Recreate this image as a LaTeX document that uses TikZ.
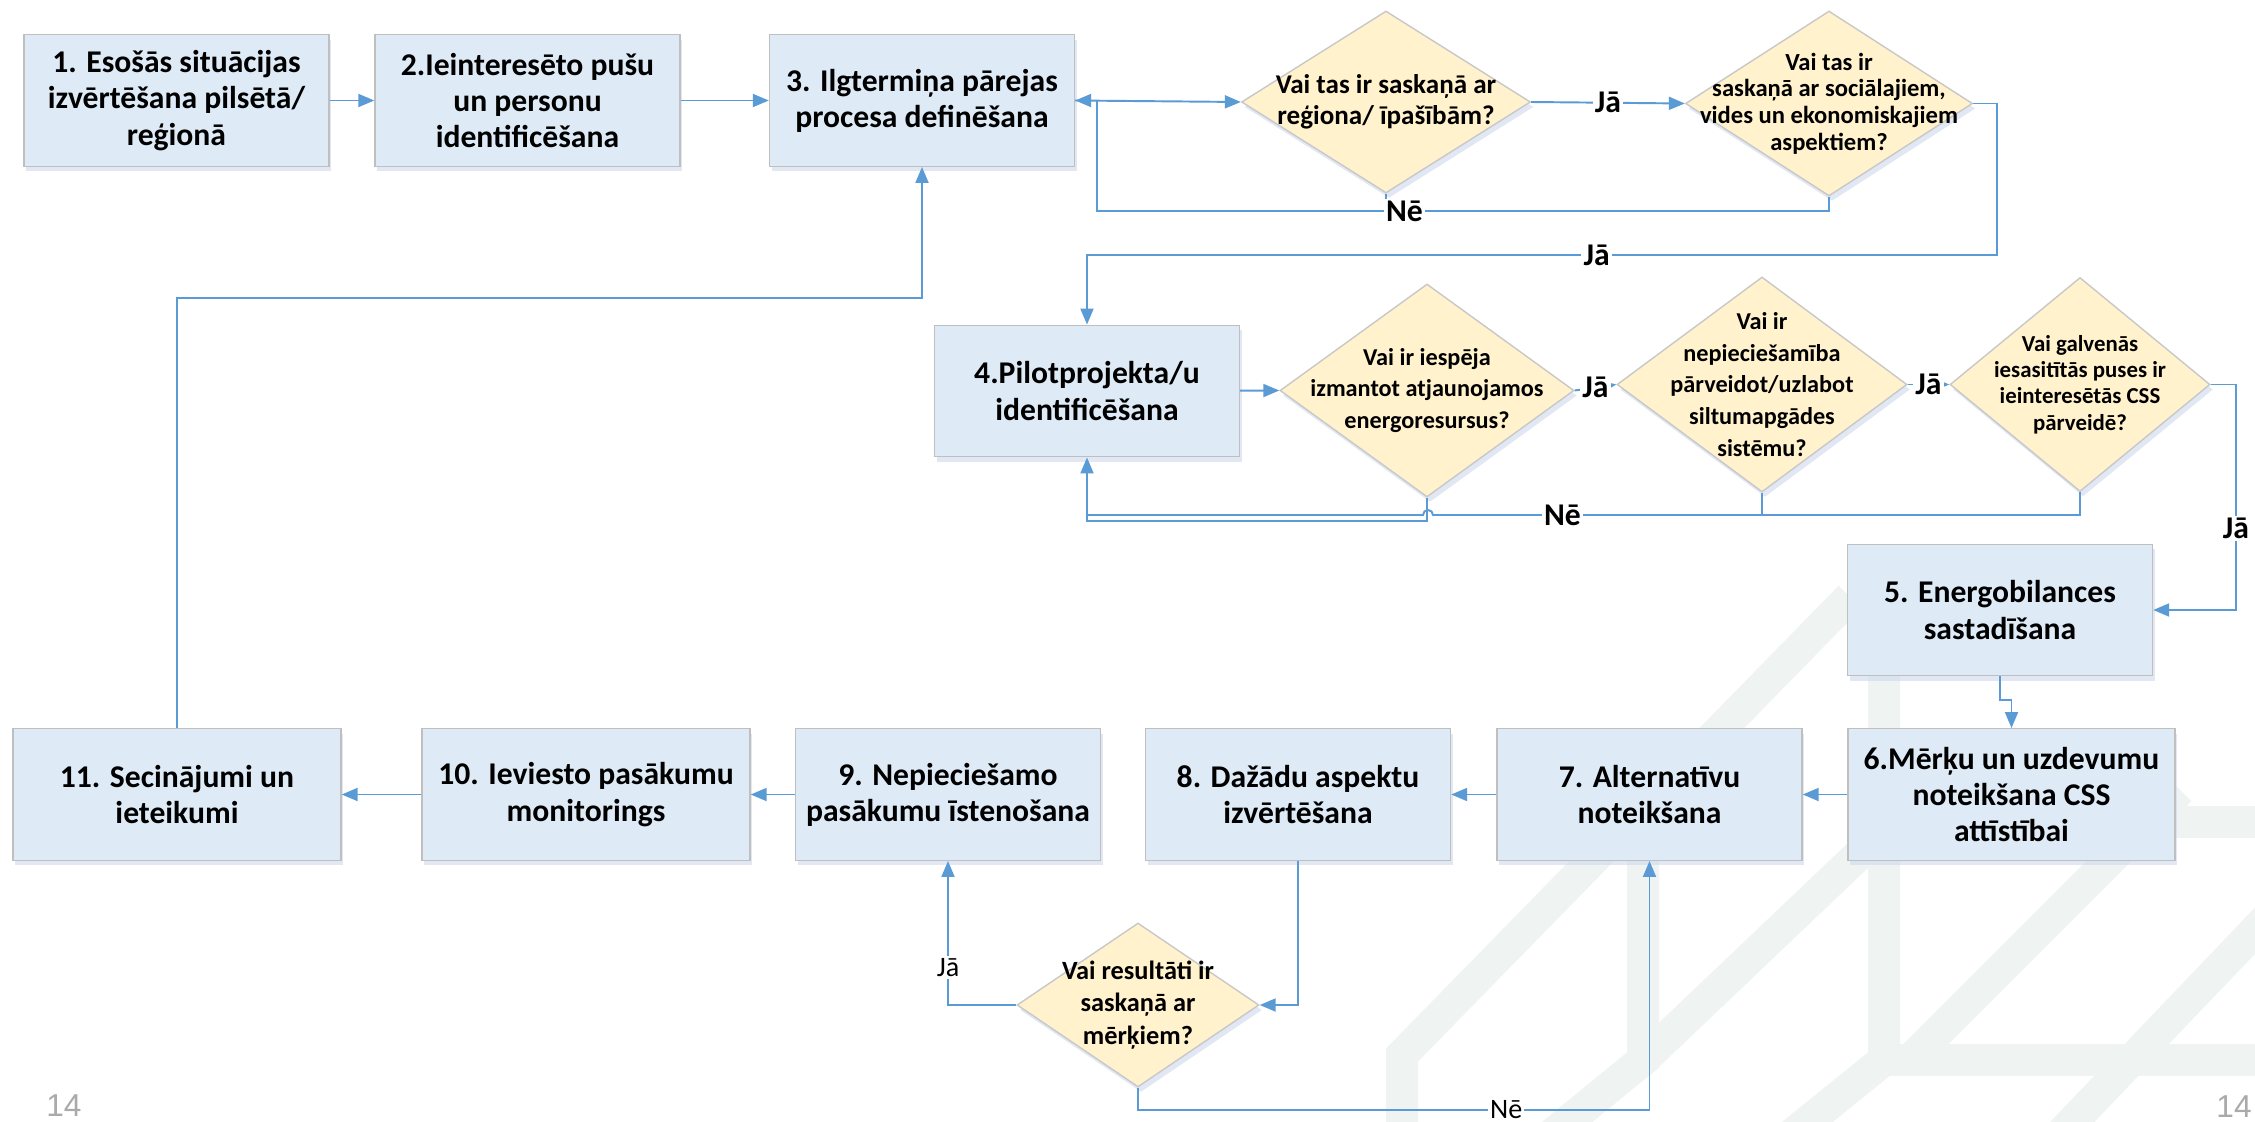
\documentclass[tikz,border=0pt]{standalone}
\usepackage{fontspec}
\setmainfont{Carlito}
\newfontfamily\pagefont{Liberation Sans}
\usetikzlibrary{positioning, arrows.meta, calc, shapes.geometric, shadows}

\definecolor{boxfill}{RGB}{222,235,247}
\definecolor{boxline}{RGB}{191,191,191}
\definecolor{decfill}{RGB}{255,242,204}
\definecolor{decline}{RGB}{200,200,200}
\definecolor{flowblue}{RGB}{91,155,213}
\definecolor{shade}{RGB}{205,218,236}
\definecolor{wmcolor}{RGB}{239,244,243}
\definecolor{pagegray}{RGB}{170,170,170}

\newcommand\boxfont{\bfseries\fontsize{9}{10.3}\selectfont}
\newcommand\decfont{\bfseries\fontsize{6.9}{9}\selectfont}
\newcommand\decsmall{\bfseries\fontsize{6.5}{7.5}\selectfont}

\tikzset{
  procbox/.style={draw=boxline, fill=boxfill, line width=0.4pt, align=center,
    minimum width=30.5mm, minimum height=13.15mm, inner sep=1pt, font=\boxfont,
    drop shadow={shadow xshift=0.2mm, shadow yshift=-0.5mm, fill=shade, opacity=0.6}},
  decision/.style={diamond, draw=decline, fill=decfill, line width=0.4pt, inner sep=0pt,
    drop shadow={shadow xshift=0.3mm, shadow yshift=-0.5mm, fill=shade, opacity=0.6}},
  dectext/.style={align=center, inner sep=0pt, font=\decfont},
  flow/.style={draw=flowblue, line width=0.55pt, -{Triangle[length=1.6mm, width=1.3mm]}},
  link/.style={draw=flowblue, line width=0.55pt},
  answer/.style={fill=white, inner sep=0.6pt, font=\bfseries\fontsize{9}{10}\selectfont},
  answerlight/.style={fill=white, inner sep=0.6pt, font=\fontsize{8}{9}\selectfont},
  wmark/.style={draw=wmcolor, line width=3.2mm},
  pagenum/.style={text=pagegray, font=\pagefont\fontsize{9}{10}\selectfont, inner sep=0pt}
}

\begin{document}
\begin{tikzpicture}[x=0.1mm, y=-0.1mm]
\useasboundingbox (0,0) rectangle (2255,1122);
\fill[white] (0,0) rectangle (2255,1122);

% background pattern
\begin{scope}
\clip (0,0) rectangle (2255,1122);
\draw[wmark] (1402,1140) -- (1402,1055) -- (1850,597);
\draw[wmark] (1545,1140) -- (1643,1060) -- (1643,740);
\draw[wmark] (1643,1060) -- (1869,845);
\draw[wmark] (1785,1140) -- (1884,1060) -- (1884,676);
\draw[wmark] (1884,1060) -- (2270,1060);
\draw[wmark] (1910,1060) -- (2180,790);
\draw[wmark] (2175,822) -- (2270,822);
\draw[wmark] (2055,1140) -- (2270,915);
\end{scope}

% steps
\node[procbox] (b1) at (176.5,100.5) {1. Esošās situācijas\\izvērtēšana pilsētā/\\reģionā};
\node[procbox] (b2) at (527.5,100.5) {2.Ieinteresēto pušu\\un personu\\identificēšana};
\node[procbox] (b3) at (922,100.5) {3. Ilgtermiņa pārejas\\procesa definēšana};
\node[procbox] (b4) at (1087,391) {4.Pilotprojekta/u\\identificēšana};
\node[procbox] (b5) at (2000,610) {5. Energobilances\\sastadīšana};
\node[procbox, minimum width=32.7mm] (b6) at (2011.5,794.5) {6.Mērķu un uzdevumu\\noteikšana CSS\\attīstībai};
\node[procbox] (b7) at (1649.5,794.5) {7. Alternatīvu\\noteikšana};
\node[procbox] (b8) at (1298,794.5) {8. Dažādu aspektu\\izvērtēšana};
\node[procbox] (b9) at (948,794.5) {9. Nepieciešamo\\pasākumu īstenošana};
\node[procbox, minimum width=32.8mm] (b10) at (586,794.5) {10. Ieviesto pasākumu\\monitorings};
\node[procbox, minimum width=32.8mm] (b11) at (177,794.5) {11. Secinājumi un\\ieteikumi};

% questions
\node[decision, minimum width=28.9mm, minimum height=18.2mm] (dA) at (1386,102) {};
\node[dectext, font=\bfseries\fontsize{7.7}{8.8}\selectfont] (tA) at (dA) {Vai tas ir saskaņā ar\\reģiona/ īpašībām?};
\node[decision, minimum width=28.7mm, minimum height=18.5mm] (dB) at (1829,103.5) {};
\node[dectext, font=\bfseries\fontsize{7}{7.6}\selectfont] (tB) at (dB) {Vai tas ir\\saskaņā ar sociālajiem,\\vides un ekonomiskajiem\\aspektiem?};
\node[decision, minimum width=29.4mm, minimum height=21.3mm] (dC) at (1427,390.5) {};
\node[dectext] (tC) at (dC) {Vai ir iespēja\\izmantot atjaunojamos\\energoresursus?};
\node[decision, minimum width=29mm, minimum height=21.5mm] (dD) at (1762,384.5) {};
\node[dectext] (tD) at (dD) {Vai ir\\nepieciešamība\\pārveidot/uzlabot\\siltumapgādes\\sistēmu?};
\node[decision, minimum width=26mm, minimum height=21.4mm] (dE) at (2080,384.5) {};
\node[dectext, font=\decsmall] (tE) at (dE) {Vai galvenās\\iesasitītās puses ir\\ieinteresētās CSS\\pārveidē?};
\node[decision, minimum width=24.2mm, minimum height=16.4mm] (dF) at (1138,1005) {};
\node[dectext, font=\bfseries\fontsize{7.5}{9.2}\selectfont] (tF) at (dF) {Vai resultāti ir\\saskaņā ar\\mērķiem?};

% first row
\draw[flow] (b1) -- (b2);
\draw[flow] (b2) -- (b3);
\draw[flow] (b3.east) -- (dA.west);
\draw[link] (dA.south) -- ++(0,18);
\draw[flow] (dB.south) |- node[answer, pos=0.79] (no1) {Nē} (1097,211) |- (b3.east);
\draw[flow] (dA.east) -- node[answer] (yes1) {Jā} (dB.west);
\draw[flow] (dB.east) -| (1997,255) -- node[answer, pos=0.44] (yes2) {Jā} (b4.north |- 0,255) -- (b4.north);

% second row
\draw[flow] (b4) -- (dC.west);
\draw[flow] (dC.east) -- node[answer] (yes3) {Jā} (dD.west);
\draw[flow] (dD.east) -- node[answer] (yes4) {Jā} (dE.west);
\draw[flow] (dE.east) -| node[answer, pos=0.82] (yes5) {Jā} (2236,610) -- (b5.east);
\draw[link] (dC.south) |- (1087,521) -- (1087,515);
\draw[link] (dD.south) -- (dD.south |- 0,515);
\draw[flow] (dE.south) |- node[answer, pos=0.9] (no2) {Nē} (1433,515)
  arc[start angle=0, end angle=-180, radius=5] -- (1087,515) -- (b4.south);

% third row
\draw[flow] (b5.south) -- ++(0,23.6) -| (b6.north);
\draw[flow] (b6) -- (b7);
\draw[flow] (b7) -- (b8);
\draw[flow] (b8.south) |- (dF.east);
\draw[flow] (dF.west) -| node[answerlight, pos=0.63] (yes6) {Jā} (b9.south);
\draw[flow] (dF.south) |- node[answerlight, pos=0.86] (no3) {Nē} (b7.south |- 0,1110) -- (b7.south);
\draw[flow] (b9) -- (b10);
\draw[flow] (b10) -- (b11);
\draw[flow] (b11.north) -- ++(0,-430) -| (b3.south);

% page numbers
\node[pagenum] (pgL) at (64,1106) {14};
\node[pagenum] (pgR) at (2234,1107) {14};
\end{tikzpicture}
\end{document}
